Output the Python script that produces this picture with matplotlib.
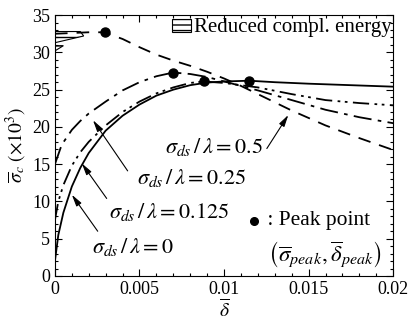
import numpy as np
import matplotlib
matplotlib.use("Agg")
import matplotlib.pyplot as plt
from matplotlib.patches import Polygon, Rectangle

plt.rcParams['font.family'] = ['Liberation Serif', 'DejaVu Serif']
plt.rcParams['mathtext.fontset'] = 'stix'

# sigma_ds/lambda = 0 (solid)
x0 = [0, 0.0002, 0.0005, 0.001, 0.0015, 0.002, 0.003, 0.004, 0.005, 0.006,
      0.007, 0.008, 0.009, 0.010, 0.0115, 0.013, 0.015, 0.0175, 0.02]
y0 = [2.0, 5.5, 8.5, 12.0, 14.5, 16.5, 19.5, 21.5, 23.0, 24.2,
      25.0, 25.6, 25.95, 26.1, 26.2, 26.0, 25.8, 25.6, 25.4]
# 0.125 (dash-dot-dot)
x1 = [0, 0.0002, 0.0005, 0.001, 0.0015, 0.002, 0.003, 0.004, 0.005, 0.006,
      0.007, 0.008, 0.0088, 0.010, 0.012, 0.014, 0.016, 0.018, 0.02]
y1 = [7.5, 10.0, 12.2, 14.8, 16.6, 18.0, 20.2, 22.0, 23.4, 24.5,
      25.3, 25.9, 26.1, 25.9, 25.3, 24.4, 23.6, 23.2, 22.9]
# 0.25 (dash-dot)
x2 = [0, 0.0004, 0.001, 0.0015, 0.002, 0.003, 0.004, 0.005, 0.006, 0.007,
      0.008, 0.009, 0.010, 0.012, 0.014, 0.016, 0.018, 0.02]
y2 = [15.0, 17.6, 19.6, 20.8, 21.8, 23.4, 24.9, 26.0, 26.8, 27.3,
      27.1, 26.7, 26.1, 24.9, 23.6, 22.3, 21.3, 20.5]
# 0.5 (dashed)
x3 = [0, 0.001, 0.002, 0.0029, 0.004, 0.005, 0.006, 0.007, 0.008, 0.009,
      0.010, 0.011, 0.012, 0.014, 0.016, 0.018, 0.02]
y3 = [32.5, 32.6, 32.7, 32.7, 31.8, 30.7, 29.7, 28.9, 28.2, 27.4,
      26.5, 25.5, 24.4, 22.2, 20.2, 18.5, 16.9]

peak_x = [0.0115, 0.0088, 0.0070, 0.00294]
peak_y = [26.2, 26.2, 27.3, 32.7]

# hatched "reduced complementary energy" patches near the origin
hatch_a = [(0, 32.8), (0.0015, 32.8), (0.0017, 32.2), (0, 31.3)]
hatch_b = [(0, 30.9), (0.0005, 30.9), (0, 30.2)]

fig = plt.figure(figsize=(4.13, 3.22), dpi=100)
ax = fig.add_axes([0.133, 0.143, 0.819, 0.810])

lw = 1.3
ax.plot(x0, y0, color='black', lw=lw, ls='-')
ax.plot(x1, y1, color='black', lw=lw, ls=(0, (9, 3, 1.5, 2.5, 1.5, 3)))
ax.plot(x2, y2, color='black', lw=lw, ls=(0, (10, 3.5, 2, 3.5)))
ax.plot(x3, y3, color='black', lw=lw, ls=(0, (7, 5)))
ax.plot(peak_x, peak_y, 'o', color='black', ms=6.5)

for poly in (hatch_a, hatch_b):
    ax.add_patch(Polygon(poly, closed=True, fill=False, hatch='--',
                         edgecolor='black', lw=0.8))

ax.add_patch(Rectangle((0.00694, 32.8), 0.00112, 1.7, fill=False,
                       hatch='---', edgecolor='black', lw=0.8))
ax.text(0.00822, 33.4, 'Reduced compl. energy', fontsize=15, va='center')

arrow = dict(arrowstyle='-|>,head_length=0.7,head_width=0.18',
             color='black', lw=0.8, shrinkA=0, shrinkB=0)
fs = 16
ax.annotate('', xy=(0.0138, 21.6), xytext=(0.01253, 17.1), arrowprops=arrow)
ax.text(0.00653, 17.3, r'$\sigma_{ds}\,/\,\lambda = 0.5$', fontsize=fs, va='center')
ax.annotate('', xy=(0.00225, 20.9), xytext=(0.0043, 14.1), arrowprops=arrow)
ax.text(0.00485, 13.1, r'$\sigma_{ds}\,/\,\lambda = 0.25$', fontsize=fs, va='center')
ax.annotate('', xy=(0.00159, 15.1), xytext=(0.00306, 10.4), arrowprops=arrow)
ax.text(0.0032, 8.6, r'$\sigma_{ds}\,/\,\lambda = 0.125$', fontsize=fs, va='center')
ax.annotate('', xy=(0.001, 10.9), xytext=(0.00253, 6.0), arrowprops=arrow)
ax.text(0.0022, 3.9, r'$\sigma_{ds}\,/\,\lambda = 0$', fontsize=fs, va='center')

ax.plot([0.0118], [7.4], 'o', color='black', ms=5.5)
ax.text(0.01225, 7.4, ' : Peak point', fontsize=15.5, va='center')
ax.text(0.01262, 2.8,
        r'$\left(\overline{\sigma}_{peak},\overline{\delta}_{peak}\right)$',
        fontsize=16.5, va='center')

ax.set_xlim(0, 0.02)
ax.set_ylim(0, 35)
ax.set_xticks([0, 0.005, 0.01, 0.015, 0.02])
ax.set_xticklabels(['0', '0.005', '0.01', '0.015', '0.02'])
ax.set_yticks(range(0, 36, 5))
ax.set_xticks(np.arange(0, 0.0201, 0.001), minor=True)
ax.set_yticks(range(0, 36), minor=True)
ax.tick_params(which='both', direction='in', top=True, right=True,
               labelsize=13, width=0.8)
ax.tick_params(which='major', length=5)
ax.tick_params(which='minor', length=2.5)
for s in ax.spines.values():
    s.set_linewidth(0.8)

ax.set_xlabel(r'$\overline{\delta}$', fontsize=14, labelpad=0)
ax.set_ylabel(r'$\overline{\sigma}_c\ (\times 10^3)$', fontsize=14, labelpad=2)

fig.savefig('out.png', dpi=100)
